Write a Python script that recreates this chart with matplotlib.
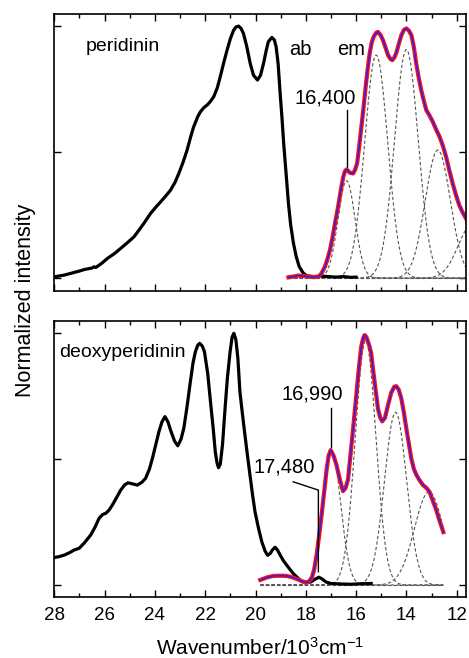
import matplotlib
matplotlib.use("Agg")
import matplotlib.pyplot as plt
import numpy as np
from matplotlib.ticker import MultipleLocator

plt.rcParams["font.family"] = ["Liberation Sans", "DejaVu Sans"]
plt.rcParams["mathtext.fontset"] = "custom"
plt.rcParams["mathtext.rm"] = "Liberation Sans"
plt.rcParams["mathtext.it"] = "Liberation Sans:italic"

# ---- peridinin (top panel), x in 10^3 cm^-1 ----
per_ab_x = [28.0, 27.6, 27.34, 27.0, 26.81, 26.5, 26.42, 26.35, 26.1, 25.89,
            25.6, 25.36, 25.1, 24.83, 24.6, 24.44, 24.17, 23.95, 23.77, 23.55,
            23.38, 23.2, 23.05, 22.88, 22.72, 22.58, 22.46, 22.3, 22.19, 22.05,
            21.92, 21.8, 21.66, 21.52, 21.4, 21.25, 21.13, 21.0, 20.87, 20.77,
            20.67, 20.57, 20.48, 20.35, 20.21, 20.08, 19.92, 19.8, 19.68, 19.57,
            19.49, 19.35, 19.25, 19.18, 19.1, 19.02, 18.95, 18.88, 18.78, 18.69,
            18.6, 18.49, 18.38, 18.26, 18.1, 17.96, 17.7, 17.4, 17.1, 16.8,
            16.5, 16.2, 16.0]
per_ab_y = [0.005, 0.012, 0.019, 0.028, 0.034, 0.040, 0.045, 0.042, 0.060, 0.078,
            0.098, 0.118, 0.140, 0.164, 0.195, 0.217, 0.257, 0.283, 0.303, 0.328,
            0.349, 0.380, 0.415, 0.460, 0.508, 0.560, 0.600, 0.640, 0.660, 0.677,
            0.687, 0.700, 0.720, 0.755, 0.800, 0.860, 0.905, 0.950, 0.984, 0.997,
            1.000, 0.990, 0.971, 0.920, 0.852, 0.805, 0.786, 0.805, 0.852, 0.905,
            0.938, 0.955, 0.945, 0.918, 0.850, 0.733, 0.640, 0.535, 0.410, 0.296,
            0.210, 0.138, 0.085, 0.045, 0.020, 0.009, 0.006, 0.008, 0.006, 0.004,
            0.006, 0.003, 0.004]

per_em_x = [18.69, 18.5, 18.3, 18.16, 17.9, 17.7, 17.5, 17.38, 17.24, 17.14,
            17.04, 16.94, 16.84, 16.74, 16.65, 16.58, 16.51, 16.44, 16.38, 16.31,
            16.25, 16.12, 16.04, 15.96, 15.88, 15.79, 15.7, 15.62, 15.54, 15.46,
            15.38, 15.3, 15.2, 15.13, 15.03, 14.93, 14.83, 14.73, 14.64, 14.56,
            14.48, 14.4, 14.3, 14.2, 14.1, 14.0, 13.9, 13.8, 13.7, 13.61,
            13.51, 13.41, 13.31, 13.21, 13.08, 12.95, 12.82, 12.68, 12.55, 12.42,
            12.3, 12.16, 12.03, 11.9, 11.77, 11.63, 11.5]
per_em_y = [0.003, 0.006, 0.010, 0.009, 0.006, 0.004, 0.005, 0.018, 0.045, 0.075,
            0.111, 0.160, 0.217, 0.270, 0.323, 0.365, 0.402, 0.425, 0.431, 0.425,
            0.418, 0.415, 0.430, 0.455, 0.520, 0.600, 0.680, 0.759, 0.830, 0.892,
            0.935, 0.958, 0.974, 0.977, 0.965, 0.944, 0.915, 0.885, 0.870, 0.865,
            0.875, 0.894, 0.930, 0.964, 0.985, 0.991, 0.982, 0.964, 0.915, 0.852,
            0.795, 0.746, 0.705, 0.667, 0.645, 0.620, 0.590, 0.561, 0.525, 0.481,
            0.430, 0.376, 0.330, 0.290, 0.262, 0.237, 0.210]

per_comp_center = [16.38, 15.2, 14.0, 12.75, 11.4]
per_comp_height = [0.386, 0.885, 0.907, 0.508, 0.21]
per_comp_width = [0.34, 0.46, 0.47, 0.50, 0.55]

# ---- deoxyperidinin (bottom panel) ----
deo_ab_x = [28.0, 27.8, 27.6, 27.4, 27.21, 27.01, 26.8, 26.55, 26.38, 26.22,
            26.08, 25.95, 25.82, 25.69, 25.52, 25.36, 25.2, 25.07, 24.9, 24.7,
            24.52, 24.37, 24.22, 24.1, 23.96, 23.84, 23.72, 23.6, 23.48, 23.38,
            23.22, 23.09, 22.96, 22.85, 22.72, 22.59, 22.48, 22.39, 22.3, 22.22,
            22.12, 22.03, 21.9, 21.79, 21.68, 21.6, 21.53, 21.47, 21.4, 21.31,
            21.21, 21.12, 21.01, 20.93, 20.86, 20.78, 20.7, 20.62, 20.52, 20.42,
            20.32, 20.22, 20.12, 20.02, 19.88, 19.75, 19.62, 19.52, 19.42, 19.32,
            19.22, 19.12, 19.02, 18.9, 18.76, 18.63, 18.5, 18.36, 18.23, 18.1,
            18.0, 17.8, 17.65, 17.48, 17.35, 17.2, 17.0, 16.6, 16.2, 15.8, 15.4]
deo_ab_y = [0.109, 0.113, 0.119, 0.128, 0.139, 0.146, 0.168, 0.199, 0.230, 0.265,
            0.280, 0.285, 0.298, 0.318, 0.348, 0.377, 0.398, 0.406, 0.402, 0.397,
            0.408, 0.424, 0.460, 0.503, 0.560, 0.609, 0.648, 0.669, 0.648, 0.616,
            0.572, 0.553, 0.580, 0.623, 0.710, 0.808, 0.885, 0.927, 0.952, 0.960,
            0.950, 0.927, 0.840, 0.728, 0.620, 0.530, 0.485, 0.466, 0.480, 0.560,
            0.702, 0.820, 0.927, 0.985, 1.000, 0.975, 0.900, 0.768, 0.680, 0.596,
            0.515, 0.437, 0.360, 0.291, 0.225, 0.172, 0.135, 0.118, 0.125, 0.140,
            0.150, 0.138, 0.119, 0.098, 0.079, 0.062, 0.046, 0.032, 0.020, 0.012,
            0.010, 0.012, 0.022, 0.031, 0.024, 0.012, 0.006, 0.004, 0.003, 0.005,
            0.006]

deo_em_x = [19.81, 19.55, 19.29, 19.0, 18.76, 18.55, 18.36, 18.15, 18.0, 17.88,
            17.77, 17.67, 17.57, 17.47, 17.37, 17.27, 17.17, 17.09, 17.01, 16.9,
            16.78, 16.65, 16.52, 16.42, 16.32, 16.22, 16.12, 16.02, 15.92, 15.85,
            15.79, 15.72, 15.66, 15.59, 15.52, 15.46, 15.4, 15.33, 15.23, 15.13,
            15.04, 14.96, 14.85, 14.73, 14.6, 14.48, 14.4, 14.3, 14.2, 14.1,
            14.0, 13.9, 13.8, 13.7, 13.6, 13.47, 13.34, 13.2, 13.08, 12.95,
            12.82, 12.68, 12.53]
deo_em_y = [0.020, 0.030, 0.036, 0.037, 0.036, 0.031, 0.024, 0.015, 0.010, 0.014,
            0.026, 0.060, 0.120, 0.195, 0.280, 0.370, 0.460, 0.515, 0.536, 0.515,
            0.477, 0.420, 0.373, 0.385, 0.420, 0.520, 0.620, 0.725, 0.830, 0.900,
            0.950, 0.980, 0.993, 0.985, 0.965, 0.945, 0.920, 0.860, 0.780, 0.700,
            0.665, 0.650, 0.665, 0.715, 0.765, 0.788, 0.790, 0.775, 0.740, 0.685,
            0.620, 0.560, 0.500, 0.460, 0.437, 0.415, 0.397, 0.385, 0.370, 0.335,
            0.300, 0.255, 0.210]

deo_comp_center = [16.97, 15.62, 14.43, 13.1]
deo_comp_height = [0.53, 0.97, 0.686, 0.37]
deo_comp_width = [0.36, 0.41, 0.44, 0.58]

panels = [
    ("peridinin", per_ab_x, per_ab_y, per_em_x, per_em_y,
     per_comp_center, per_comp_height, per_comp_width, (-0.05, 1.048)),
    ("deoxyperidinin", deo_ab_x, deo_ab_y, deo_em_x, deo_em_y,
     deo_comp_center, deo_comp_height, deo_comp_width, (-0.049, 1.049)),
]

fig = plt.figure(figsize=(4.69, 6.58), dpi=100)
ax_top = fig.add_axes([0.1158, 0.5582, 0.8778, 0.4205])
ax_bot = fig.add_axes([0.1158, 0.0922, 0.8778, 0.4200])

for ax, (name, abx, aby, emx, emy, cc, ch, cw, ylim) in zip([ax_top, ax_bot], panels):
    # gaussian fit components over the emission range
    xg = np.linspace(emx[0], emx[-1], 400)
    ax.plot(xg, np.zeros_like(xg), color="#555555", lw=0.8, dashes=(3, 2))
    for c, h, w in zip(cc, ch, cw):
        ax.plot(xg, h * np.exp(-(xg - c) ** 2 / (2 * w ** 2)),
                color="#555555", lw=0.8, dashes=(3, 2))
    ax.plot(abx, aby, color="black", lw=2.3, solid_joinstyle="round")
    ax.plot(emx, emy, color="#ff1010", lw=3.0, solid_joinstyle="round")
    ax.plot(emx, emy, color="#2020ff", lw=1.0, solid_joinstyle="round")

    ax.set_xlim(28, 11.63)
    ax.set_ylim(*ylim)
    ax.xaxis.set_major_locator(MultipleLocator(2))
    ax.xaxis.set_minor_locator(MultipleLocator(1))
    ax.set_yticks([0, 0.5, 1.0])
    ax.set_yticklabels([])
    ax.tick_params(which="major", direction="in", top=True, right=True,
                   length=5.2, width=1.0, labelsize=13.5, pad=7)
    ax.tick_params(which="minor", direction="in", top=True, right=True,
                   length=3.0, width=1.0)
    for sp in ax.spines.values():
        sp.set_linewidth(1.2)
    ax.text(25.28, 0.92 if ax is ax_top else 0.925, name, ha="center",
            va="center", fontsize=14)

ax_top.set_xticklabels([])

ax_top.text(18.23, 0.909, "ab", ha="center", va="center", fontsize=14.5)
ax_top.text(16.2, 0.909, "em", ha="center", va="center", fontsize=14.5)
ax_top.text(17.21, 0.713, "16,400", ha="center", va="center", fontsize=14.5)
ax_top.plot([16.37, 16.37], [0.667, 0.442], color="black", lw=1.0)

ax_bot.text(17.74, 0.759, "16,990", ha="center", va="center", fontsize=14.5)
ax_bot.plot([17.0, 17.0], [0.703, 0.55], color="black", lw=1.0)
ax_bot.text(18.87, 0.47, "17,480", ha="center", va="center", fontsize=14.5)
ax_bot.plot([18.5, 17.5, 17.5], [0.41, 0.377, 0.053], color="black", lw=1.0)

fig.text(0.0554, 0.543, "Normalized intensity", rotation=90, ha="center",
         va="center", fontsize=15.5)
fig.text(0.555, 0.0155, r"Wavenumber/10$^{3}$cm$^{-1}$", ha="center",
         va="center", fontsize=15)

fig.savefig("out.png", dpi=100)
